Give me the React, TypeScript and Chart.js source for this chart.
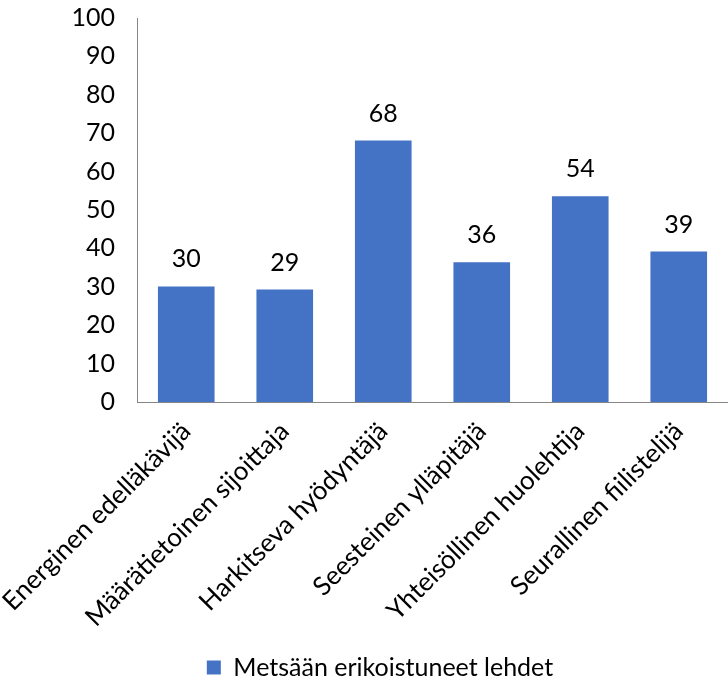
import React, { useEffect, useRef } from "react";
import { Chart, registerables } from "chart.js";

Chart.register(...registerables);

const categories = [
  "Energinen edelläkävijä",
  "Määrätietoinen sijoittaja",
  "Harkitseva hyödyntäjä",
  "Seesteinen ylläpitäjä",
  "Yhteisöllinen huolehtija",
  "Seurallinen fiilistelijä",
];
const seriesName = "Metsään erikoistuneet lehdet";
const values = [30.1, 29.3, 68.1, 36.4, 53.6, 39.2];
const yTicks = { min: 0, max: 100, step: 10 };

const FONT = "Lato, 'Open Sans', sans-serif";
const BLUE = "#4472C4";

const dataLabelPlugin = {
  id: "dataLabels",
  afterLayout(chart: any) {
    if (chart.legend) {
      chart.legend.left += 16;
      chart.legend.right += 16;
      chart.legend.top += 3;
      chart.legend.bottom += 3;
    }
  },
  afterDatasetsDraw(chart: any) {
    const ctx = chart.ctx;
    const meta = chart.getDatasetMeta(0);
    ctx.save();
    ctx.font = `25px ${FONT}`;
    ctx.fillStyle = "#000";
    ctx.textAlign = "center";
    ctx.textBaseline = "middle";
    meta.data.forEach((bar: any, i: number) => {
      const v = chart.data.datasets[0].data[i];
      ctx.fillText(String(Math.round(v)), bar.x, bar.y - 27);
    });
    ctx.restore();
  },
};

export default function App() {
  const ref = useRef<HTMLCanvasElement>(null);
  useEffect(() => {
    if (!ref.current) return;
    const chart = new Chart(ref.current, {
      type: "bar",
      data: {
        labels: categories,
        datasets: [
          {
            label: seriesName,
            data: values,
            backgroundColor: BLUE,
            borderWidth: 0,
            categoryPercentage: 1,
            barPercentage: 0.575,
          },
        ],
      },
      plugins: [dataLabelPlugin],
      options: {
        animation: false,
        responsive: false,
        maintainAspectRatio: false,
        layout: { padding: { top: 18, right: 0, left: 0, bottom: 0 } },
        plugins: {
          tooltip: { enabled: false },
          legend: {
            position: "bottom",
            labels: {
              font: { family: FONT, size: 25 },
              color: "#000",
              boxWidth: 14,
              boxHeight: 14,
              padding: 10,
            },
          },
        },
        scales: {
          x: {
            grid: { display: false, drawTicks: false },
            border: { display: true, color: "#868686", width: 1 },
            ticks: {
              font: { family: FONT, size: 26 },
              color: "#000",
              maxRotation: 45,
              minRotation: 45,
              padding: 14,
              autoSkip: false,
            },
            afterFit: (s: any) => {
              s.height = 240;
              s.paddingLeft = 0;
              s.paddingRight = 0;
            },
          },
          y: {
            min: yTicks.min,
            max: yTicks.max,
            grid: { display: false, drawTicks: false },
            border: { display: true, color: "#868686", width: 1 },
            ticks: {
              stepSize: yTicks.step,
              font: { family: FONT, size: 25 },
              color: "#000",
              padding: 22,
            },
            afterFit: (s: any) => {
              s.width = 137;
              s.paddingTop = 0;
              s.paddingBottom = 0;
            },
          },
        },
      },
    });
    return () => chart.destroy();
  }, []);
  return (
    <div style={{ position: "fixed", left: 0, top: 0, width: 728, height: 687, background: "#fff" }}>
      <canvas ref={ref} width={728} height={687} style={{ width: 728, height: 687 }} />
    </div>
  );
}
